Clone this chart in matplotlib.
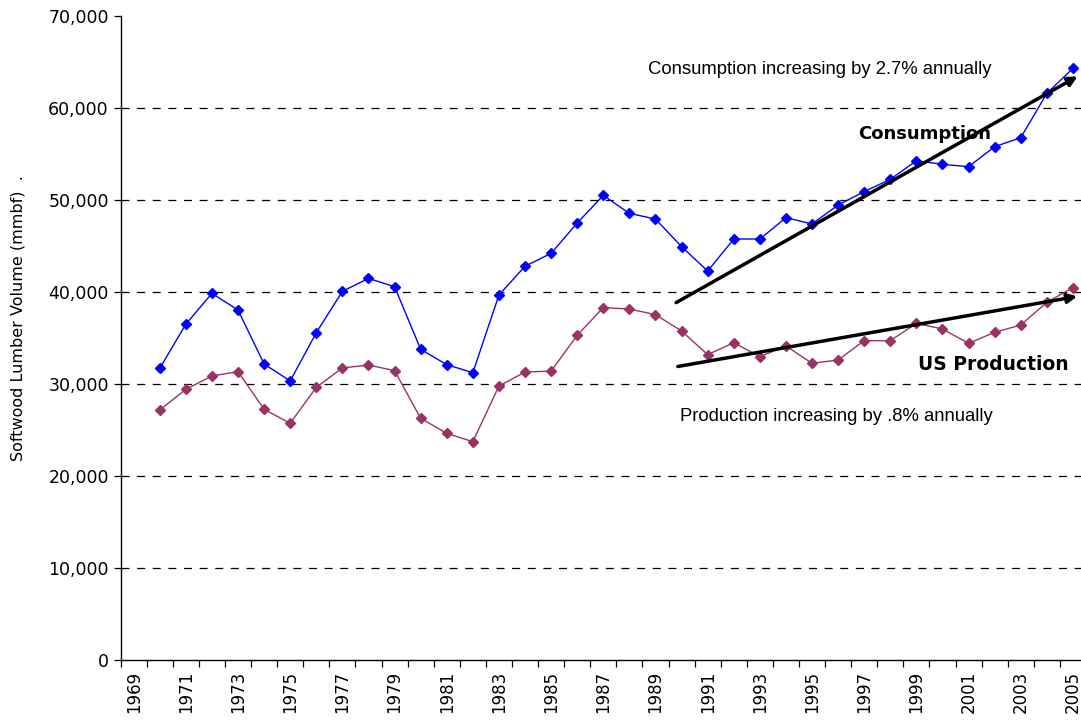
import matplotlib
matplotlib.use("Agg")
import matplotlib.pyplot as plt
import numpy as np

years = list(range(1969, 2006))
data_years = list(range(1970, 2006))
consumption = [31700, 36500, 39850, 38040, 32170, 30330, 35580, 40070, 41480, 40580,
               33770, 32100, 31230, 39670, 42800, 44200, 47500, 50500, 48550, 47930,
               44930, 42280, 45760, 45760, 48080, 47390, 49460, 50910, 52250, 54270,
               53880, 53620, 55800, 56770, 61600, 64310]
production = [27170, 29420, 30870, 31340, 27250, 25730, 29640, 31740, 32070, 31450,
              26270, 24640, 23730, 29780, 31300, 31400, 35300, 38300, 38150, 37540,
              35760, 33190, 34490, 32970, 34130, 32250, 32610, 34710, 34710, 36590,
              35980, 34420, 35620, 36410, 38880, 40470]
yticks = [0, 10000, 20000, 30000, 40000, 50000, 60000, 70000]
tick_years = years[::2]

W, H = 1081, 725
fig = plt.figure(figsize=(W / 100, H / 100), dpi=100)
left_px, right_px, top_px, bot_px = 120.6, 1086.0, 16, 660
ax = fig.add_axes([left_px / W, 1 - bot_px / H, (right_px - left_px) / W, (bot_px - top_px) / H])

xpos = {y: i for i, y in enumerate(years)}
xd = [xpos[y] for y in data_years]

for yv in yticks[1:-1]:
    ax.axhline(yv, color='black', lw=0.9, ls=(0, (6.4, 6.1)), zorder=1)

ax.plot(xd, consumption, color='#0000FF', lw=1.0, marker='D', ms=5.5, zorder=3)
ax.plot(xd, production, color='#993366', lw=1.0, marker='D', ms=5.5, zorder=3)

ax.set_xlim(-0.5, len(years) - 0.5)
ax.set_ylim(0, 70000)

ax.set_xticks(np.arange(-0.5, len(years), 1.0))
ax.set_xticklabels([])
ax.set_xticks([xpos[y] for y in tick_years], minor=True)
ax.set_xticklabels([str(y) for y in tick_years], minor=True, rotation=90, fontsize=12)
ax.tick_params(axis='x', which='major', direction='out', length=5, width=0.9)
ax.tick_params(axis='x', which='minor', length=0, pad=8)

ax.set_yticks(yticks)
ax.set_yticklabels([f"{v:,}" for v in yticks], fontsize=12.5)
ax.tick_params(axis='y', direction='out', length=5, width=0.9)

for s in ['top', 'right']:
    ax.spines[s].set_visible(False)
for s in ['left', 'bottom']:
    ax.spines[s].set_linewidth(1.0)

fig.text(18 / W, 1 - 318 / H, "Softwood Lumber Volume (mmbf)  .", rotation=90,
         ha='center', va='center', fontsize=11.5)

# trend arrows
ax.annotate('', xy=(36.27, 63590), xytext=(20.7, 38700),
            arrowprops=dict(arrowstyle='-|>', color='black', lw=2.5, mutation_scale=14),
            annotation_clip=False, zorder=4)
ax.annotate('', xy=(36.27, 39570), xytext=(20.75, 31850),
            arrowprops=dict(arrowstyle='-|>', color='black', lw=2.5, mutation_scale=14),
            annotation_clip=False, zorder=4)

ax.text(26.3, 64200, "Consumption increasing by 2.7% annually", fontsize=13.3,
        family='Liberation Sans', ha='center', va='center')
ax.text(26.95, 26500, "Production increasing by .8% annually", fontsize=13.3,
        family='Liberation Sans', ha='center', va='center')
ax.text(30.3, 57200, "Consumption", fontsize=13, fontweight='bold', ha='center', va='center')
ax.text(32.95, 32150, "US Production", fontsize=13.5, fontweight='bold', ha='center', va='center')

fig.savefig("out.png", dpi=100)
